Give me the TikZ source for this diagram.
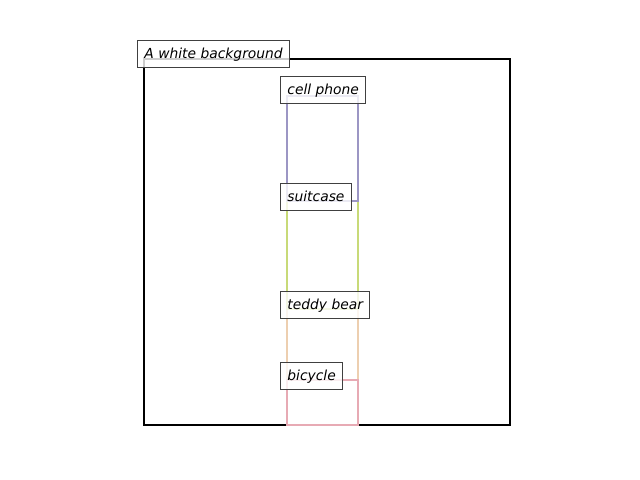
\documentclass[tikz,border=0pt]{standalone}
\usepackage{fontspec}
\setmainfont{DejaVu Sans}
\definecolor{cpC}{HTML}{9C96C4}
\definecolor{scC}{HTML}{C8DA78}
\definecolor{tbC}{HTML}{EDCFB0}
\definecolor{bcC}{HTML}{E7AAB4}
\tikzset{
  objbox/.style={line width=1.9pt},
  lbl/.style={draw=black!75, fill=white, fill opacity=0.8, text opacity=1, line width=0.7pt,
    anchor=north west, inner xsep=5pt, inner ysep=0pt, minimum height=19.4pt,
    font=\itshape\fontsize{10pt}{12pt}\selectfont, text height=8pt, text depth=1.6pt}
}
\begin{document}
\begin{tikzpicture}[x=0.01in,y=-0.01in]
\useasboundingbox (0,0) rectangle (640,480);
\coordinate (bgA) at (144,59);
\coordinate (bgB) at (510,425);
\draw[line width=1.8pt, black] (bgA) rectangle (bgB);
\draw[objbox, tbC] (287,309) rectangle (358,425);
\draw[objbox, scC] (287,201) rectangle (358,309);
\draw[objbox, cpC] (287,96) rectangle (358,201);
\draw[objbox, bcC] (287,380) rectangle (358,425);
\node[lbl] (bg) at (137,40.5) {A white background};
\node[lbl] (cp) at (280,76.5) {cell phone};
\node[lbl] (sc) at (280,183.5) {suitcase};
\node[lbl] (tb) at (280,291.5) {teddy bear};
\node[lbl] (bc) at (280,362.5) {bicycle};
\end{tikzpicture}
\end{document}
